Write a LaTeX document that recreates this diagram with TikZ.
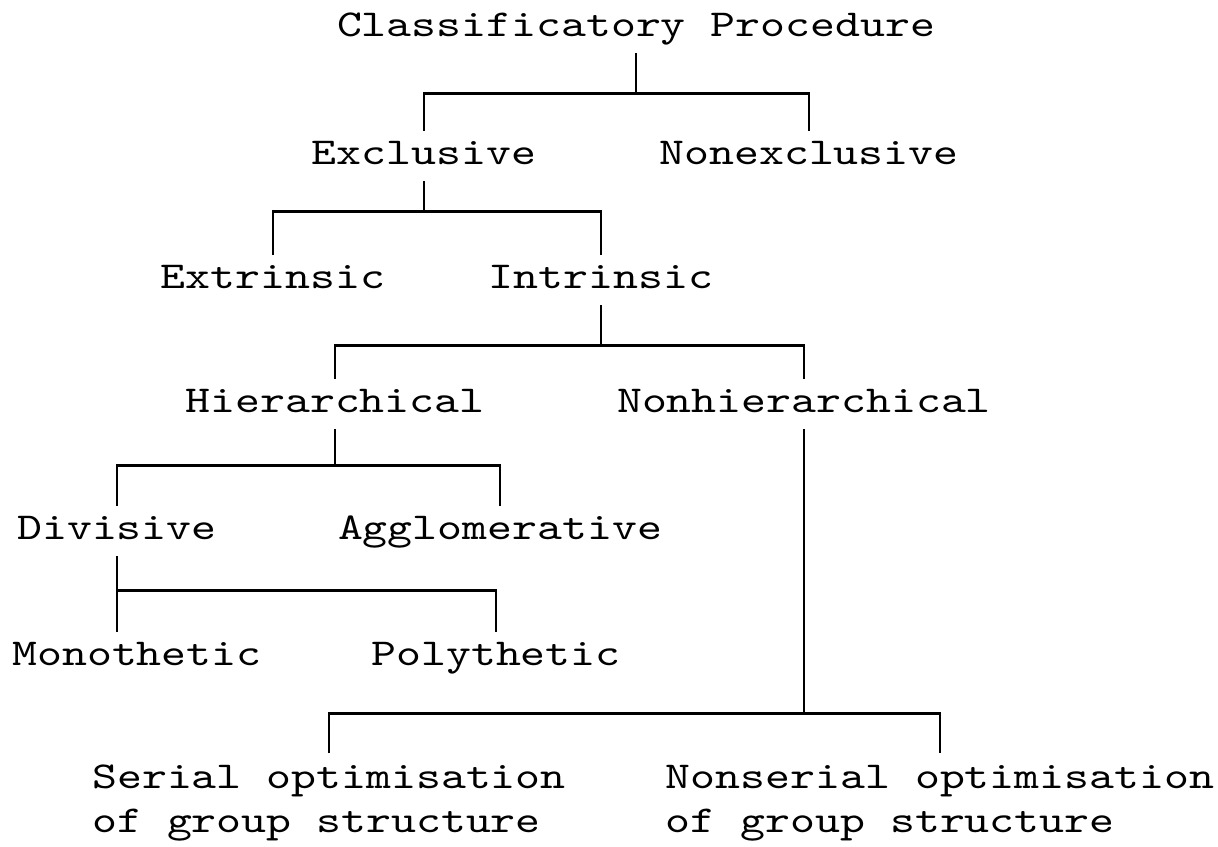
\documentclass[tikz,border=0pt]{standalone}
\usepackage{fontspec}
\newfontfamily\typewriter{lmmono10-regular.otf}[FakeStretch=1.25]
\usetikzlibrary{calc}
\tikzset{
  every picture/.style={line cap=butt, line join=miter},
  % typed labels of the classification tree
  term/.style={font=\typewriter\fontsize{27pt}{31.2pt}\selectfont,
    inner xsep=0pt, inner ysep=0.22cm, text height=0.62cm, text depth=0.19cm},
  term2/.style={font=\typewriter\fontsize{27pt}{31.2pt}\selectfont,
    align=left, inner xsep=0pt, inner ysep=0.3cm},
  branch/.style={line width=1.8pt},
}
\begin{document}
\begin{tikzpicture}[x=0.025cm, y=-0.025cm]
  \useasboundingbox (0,0) rectangle (1218,847);
  % nodes, top to bottom
  \node[term] (cp) at (636,28) {Classificatory Procedure};
  \node[term] (excl) at (424,156) {Exclusive};
  \node[term] (nonexcl) at (809,156) {Nonexclusive};
  \node[term] (extr) at (273,280) {Extrinsic};
  \node[term] (intr) at (601,280) {Intrinsic};
  \node[term] (hier) at (335,404) {Hierarchical};
  \node[term] (nonhier) at (804,404) {Nonhierarchical};
  \node[term] (div) at (117,531) {Divisive};
  \node[term] (aggl) at (500,531) {Agglomerative};
  \node[term] (mono) at (137,657) {Monothetic};
  \node[term] (poly) at (496,657) {Polythetic};
  \node[term2, anchor=north] (serial) at (329,753) {Serial optimisation\\of group structure};
  \node[term2, anchor=north] (nonserial) at (940,753) {Nonserial optimisation\\of group structure};
  % branches
  \draw[branch] (cp.south) -- ++(0,40) coordinate (j1);
  \draw[branch] (excl.north) |- (j1) -| (nonexcl.north);
  \draw[branch] (excl.south) -- ++(0,30) coordinate (j2);
  \draw[branch] (extr.north) |- (j2) -| (intr.north);
  \draw[branch] (intr.south) -- ++(0,40) coordinate (j3);
  \draw[branch] (hier.north) |- (j3) -| (nonhier.north);
  \draw[branch] (hier.south) -- ++(0,36) coordinate (j4);
  \draw[branch] (div.north) |- (j4) -| (aggl.north);
  \path (div.south) -- ++(0,34) coordinate (j5);
  \draw[branch] (div.south) -- (div.south |- mono.north);
  \draw[branch] (j5) -| (poly.north);
  \draw[branch] (nonhier.south) -- ++(0,284) coordinate (j6);
  \draw[branch] (serial.north) |- (j6) -| (nonserial.north);
\end{tikzpicture}
\end{document}
